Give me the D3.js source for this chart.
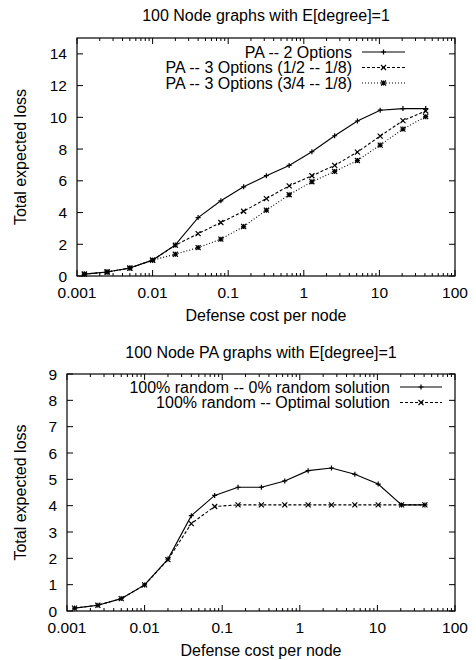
<!DOCTYPE html>
<meta charset="utf-8">
<style>
  body { margin: 0; background: #fff; }
  text { font-family: "Liberation Sans", Arial, sans-serif; fill: #000; }
</style>
<body>
<script src="https://d3js.org/d3.v7.min.js"></script>
<script>
  // x values (defense cost per node), shared by both charts
  var costs = [0.00125, 0.0025, 0.005, 0.01, 0.02, 0.04, 0.08, 0.16, 0.32, 0.64, 1.28, 2.56, 5.12, 10.24, 20.48, 40.96];

  // top chart
  var topTitle = "100 Node graphs with E[degree]=1";
  var topNames = ["PA -- 2 Options", "PA -- 3 Options (1/2 -- 1/8)", "PA -- 3 Options (3/4 -- 1/8)"];
  var pa2 = [0.12, 0.25, 0.5, 1.0, 1.96, 3.68, 4.74, 5.62, 6.32, 6.97, 7.83, 8.84, 9.77, 10.45, 10.55, 10.55];
  var pa3a = [0.12, 0.25, 0.5, 1.0, 1.94, 2.67, 3.37, 4.08, 4.88, 5.68, 6.32, 6.97, 7.81, 8.82, 9.79, 10.4];
  var pa3b = [0.12, 0.25, 0.5, 1.0, 1.37, 1.79, 2.32, 3.12, 4.15, 5.12, 5.94, 6.59, 7.28, 8.25, 9.26, 10.04];
  var topYTicks = [0, 2, 4, 6, 8, 10, 12, 14];

  // bottom chart
  var botTitle = "100 Node PA graphs with E[degree]=1";
  var botNames = ["100% random -- 0% random solution", "100% random -- Optimal solution"];
  var rand0 = [0.11, 0.22, 0.47, 0.99, 1.97, 3.62, 4.39, 4.70, 4.70, 4.94, 5.33, 5.43, 5.19, 4.82, 4.03, 4.03];
  var randOpt = [0.11, 0.22, 0.47, 0.99, 1.95, 3.32, 3.97, 4.03, 4.03, 4.03, 4.03, 4.03, 4.03, 4.03, 4.03, 4.03];
  var botYTicks = [0, 1, 2, 3, 4, 5, 6, 7, 8, 9];

  var xTicks = [0.001, 0.01, 0.1, 1, 10, 100];
  var xLabel = "Defense cost per node",
      yLabel = "Total expected loss";

  var svg = d3.select("body").append("svg")
      .attr("width", 476)
      .attr("height", 660);

  // marker shapes, gnuplot style
  function marker(g, type, x, y) {
    var s = 2.5, p;
    if (type === "plus") p = `M${x-s},${y}H${x+s}M${x},${y-s}V${y+s}`;
    else if (type === "cross") p = `M${x-s},${y-s}L${x+s},${y+s}M${x-s},${y+s}L${x+s},${y-s}`;
    else p = `M${x-s},${y}H${x+s}M${x},${y-s}V${y+s}M${x-s},${y-s}L${x+s},${y+s}M${x-s},${y+s}L${x+s},${y-s}`;
    g.append("path").attr("d", p).attr("stroke", "#000").attr("stroke-width", 1.2).attr("fill", "none");
  }

  function chart(cfg) {
    var x = d3.scaleLog().domain([0.001, 100]).range([cfg.left, cfg.right]);
    var y = d3.scaleLinear().domain([0, cfg.ymax]).range([cfg.bottom, cfg.top]);
    var g = svg.append("g");
    var mid = (cfg.left + cfg.right) / 2;

    // minor + major ticks on x (bottom and top, inward)
    var minor = [];
    for (var e = -3; e < 2; e++)
      for (var m = 2; m <= 9; m++) minor.push(m * Math.pow(10, e));
    minor.forEach(function(v) {
      g.append("line").attr("x1", x(v)).attr("x2", x(v)).attr("y1", cfg.bottom).attr("y2", cfg.bottom - 3).attr("stroke", "#000");
      g.append("line").attr("x1", x(v)).attr("x2", x(v)).attr("y1", cfg.top).attr("y2", cfg.top + 3).attr("stroke", "#000");
    });
    xTicks.forEach(function(v) {
      g.append("line").attr("x1", x(v)).attr("x2", x(v)).attr("y1", cfg.bottom).attr("y2", cfg.bottom - 6).attr("stroke", "#000");
      g.append("line").attr("x1", x(v)).attr("x2", x(v)).attr("y1", cfg.top).attr("y2", cfg.top + 6).attr("stroke", "#000");
      g.append("text").attr("x", x(v)).attr("y", cfg.bottom + 22)
        .attr("text-anchor", "middle").style("font-size", "15.5px").text(d3.format("~g")(v));
    });
    cfg.yTicks.forEach(function(v) {
      g.append("line").attr("x1", cfg.left).attr("x2", cfg.left + 6).attr("y1", y(v)).attr("y2", y(v)).attr("stroke", "#000");
      g.append("line").attr("x1", cfg.right).attr("x2", cfg.right - 6).attr("y1", y(v)).attr("y2", y(v)).attr("stroke", "#000");
      g.append("text").attr("x", cfg.left - 10).attr("y", y(v) + 5.5)
        .attr("text-anchor", "end").style("font-size", "15.5px").text(v);
    });

    g.append("rect").attr("x", cfg.left).attr("y", cfg.top)
      .attr("width", cfg.right - cfg.left).attr("height", cfg.bottom - cfg.top)
      .attr("fill", "none").attr("stroke", "#000").attr("stroke-width", 1.2);

    g.append("text").attr("x", mid).attr("y", cfg.titleY)
      .attr("text-anchor", "middle").style("font-size", "16px").text(cfg.title);
    g.append("text").attr("x", mid).attr("y", cfg.bottom + 45)
      .attr("text-anchor", "middle").style("font-size", "16px").text(xLabel);
    g.append("text").attr("transform", `translate(26,${(cfg.top + cfg.bottom) / 2}) rotate(-90)`)
      .attr("text-anchor", "middle").style("font-size", "16px").text(yLabel);

    var line = d3.line().x(function(d) { return x(d[0]); }).y(function(d) { return y(d[1]); });

    cfg.series.forEach(function(s, i) {
      var pts = costs.map(function(c, j) { return [c, s.values[j]]; });
      g.append("path").datum(pts).attr("d", line)
        .attr("fill", "none").attr("stroke", "#000").attr("stroke-width", 1.1)
        .attr("stroke-dasharray", s.dash);
      pts.forEach(function(p) { marker(g, s.marker, x(p[0]), y(p[1])); });

      // legend entry
      var ly = cfg.keyY + i * 15.5;
      g.append("text").attr("x", cfg.keyText).attr("y", ly + 5.5)
        .attr("text-anchor", "end").style("font-size", "16px").text(s.name);
      g.append("line").attr("x1", cfg.keyX1).attr("x2", cfg.keyX2).attr("y1", ly).attr("y2", ly)
        .attr("stroke", "#000").attr("stroke-width", 1.1).attr("stroke-dasharray", s.dash);
      marker(g, s.marker, (cfg.keyX1 + cfg.keyX2) / 2, ly);
    });
  }

  chart({
    left: 77, right: 455, top: 38, bottom: 276, ymax: 15,
    yTicks: topYTicks, title: topTitle, titleY: 21,
    keyY: 52, keyText: 352, keyX1: 362, keyX2: 405,
    series: [
      { name: topNames[0], values: pa2, marker: "plus", dash: null },
      { name: topNames[1], values: pa3a, marker: "cross", dash: "3,2" },
      { name: topNames[2], values: pa3b, marker: "star", dash: "1,2" }
    ]
  });

  chart({
    left: 67, right: 455, top: 374, bottom: 611, ymax: 9,
    yTicks: botYTicks, title: botTitle, titleY: 358,
    keyY: 387, keyText: 390, keyX1: 400, keyX2: 442,
    series: [
      { name: botNames[0], values: rand0, marker: "plus", dash: null },
      { name: botNames[1], values: randOpt, marker: "cross", dash: "3,2" }
    ]
  });
</script>
</body>
